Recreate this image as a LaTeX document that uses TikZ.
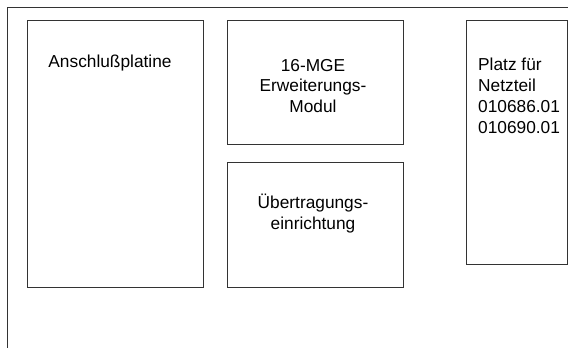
\documentclass[tikz,border=0pt]{standalone}
\usepackage{fontspec}
\setmainfont{Liberation Sans}
\definecolor{linegray}{HTML}{333333}
\begin{document}
\begin{tikzpicture}[x=1bp,y=-1bp,
  box/.style={draw=linegray, line width=0.9bp, inner sep=0, anchor=north west},
  lbl/.style={font=\fontsize{17.3bp}{20.5bp}\selectfont, inner sep=0, text=black}]
\useasboundingbox (0,0) rectangle (568,347);
\fill[white] (0,0) rectangle (568,347);
\coordinate (fbl) at (7,348);
\coordinate (ftl) at (7,7);
\coordinate (ftr) at (569,7);
\draw[linegray, line width=0.9bp] (fbl) -- (ftl) -- (ftr);
\node[box, minimum width=176bp, minimum height=267bp] (ap) at (27,20) {};
\node[box, minimum width=176bp, minimum height=124bp] (mge) at (227,20) {};
\node[box, minimum width=176bp, minimum height=125bp] (ueb) at (227,162) {};
\node[box, minimum width=101bp, minimum height=244bp] (nt) at (466,20) {};
\node[lbl, anchor=base] (tap) at (110,67) {Anschlußplatine};
\node[lbl, anchor=base, align=center] (tmge) at (313,112) {16-MGE\\Erweiterungs-\\Modul};
\node[lbl, anchor=base, align=center] (tueb) at (313,229) {Übertragungs-\\einrichtung};
\node[lbl, anchor=base west, align=left, font=\fontsize{17.3bp}{21bp}\selectfont] (tnt) at (478,133) {Platz für\\Netzteil\\010686.01\\010690.01};
\end{tikzpicture}
\end{document}
